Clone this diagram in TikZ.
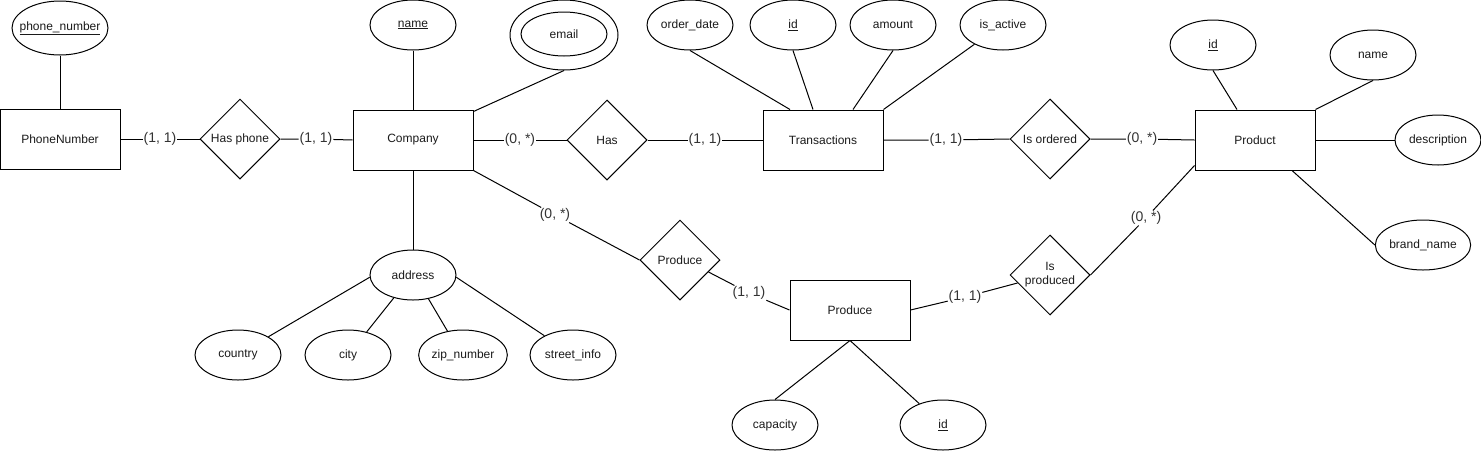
\documentclass[tikz,border=0pt]{standalone}
\usepackage{fontspec}
\setmainfont{Liberation Sans}
\usetikzlibrary{shapes.geometric}
\definecolor{cardgray}{HTML}{333333}
\definecolor{txt}{HTML}{1A1A1A}
\begin{document}
\begin{tikzpicture}[x=1pt,y=-1pt,line width=1pt,
  ent/.style={draw,rectangle,minimum width=120pt,minimum height=60pt,inner sep=0pt,font=\fontsize{12}{14}\selectfont,text=txt},
  attr/.style={draw,ellipse,minimum width=86pt,minimum height=50pt,inner sep=0pt,font=\fontsize{12}{14}\selectfont,text=txt},
  rel/.style={draw,diamond,minimum width=80pt,minimum height=80pt,inner sep=0pt,align=center,font=\fontsize{12}{14}\selectfont,text=txt},
  card/.style={inner sep=0.5pt,font=\fontsize{14}{16}\selectfont,text=cardgray}]
\useasboundingbox (0,0) rectangle (1481,451);

% entities
\node[ent] (pn) at (60,139) {PhoneNumber};
\node[ent] (co) at (413,140) {Company};
\node[ent] (tr) at (823,140) {Transactions};
\node[ent] (pr) at (1255,140) {Product};
\node[ent] (pe) at (850,310) {Produce};

% relationships
\node[rel] (hp) at (240,139) {Has phone};
\node[rel] (has) at (607,140) {Has};
\node[rel] (io) at (1050,139) {Is ordered};
\node[rel] (pd) at (680,260) {Produce};
\node[rel] (ip) at (1050,275) {Is\\produced};

% attributes
\node[attr,minimum width=96pt,minimum height=54pt] (pnum) at (60,28) {\makebox[0pt]{\underline{phone\_number}}};
\node[attr] (cname) at (413,25) {\underline{name}};
\node[draw,ellipse,minimum width=108pt,minimum height=70pt,inner sep=0pt] (email) at (564,35) {};
\node[attr,minimum height=44pt] (emailin) at (564,34) {email};
\node[attr] (od) at (690,25) {order\_date};
\node[attr] (tid) at (793,25) {\underline{id}};
\node[attr] (amt) at (893,25) {amount};
\node[attr] (act) at (1003,25) {is\_active};
\node[attr] (pid) at (1213,45) {\underline{id}};
\node[attr] (pname) at (1373,55) {name};
\node[attr] (desc) at (1438,140) {description};
\node[attr] (brand) at (1423,245) {brand\_name};
\node[attr] (addr) at (413,275) {address};
\node[attr] (ctry) at (238,355) {country};
\node[attr] (city) at (348,355) {city};
\node[attr] (zip) at (463,355) {zip\_number};
\node[attr] (street) at (573,355) {street\_info};
\node[attr] (cap) at (775,425) {capacity};
\node[attr] (eid) at (943,425) {\underline{id}};

% cardinality labels
\node[card] (l1) at (160,139) {(1, 1)};
\node[card] (l2) at (316,139) {(1, 1)};
\node[card] (l3) at (520,140) {(0, *)};
\node[card] (l4) at (705,140) {(1, 1)};
\node[card] (l5) at (946,140) {(1, 1)};
\node[card] (l6) at (1142,139) {(0, *)};
\node[card] (l7) at (555,215) {(0, *)};
\node[card] (l8) at (749,293) {(1, 1)};
\node[card] (l9) at (965,297) {(1, 1)};
\node[card] (l10) at (1146,218) {(0, *)};

% relationship connectors
\draw (pn.east) -- (l1) -- (hp.west);
\draw (hp.east) -- (l2) -- (co.west);
\draw (co.east) -- (l3) -- (has.west);
\draw (has.east) -- (l4) -- (tr.west);
\draw (tr.east) -- (l5) -- (io.west);
\draw (io.east) -- (l6) -- (pr.west);
\draw (co.south east) -- (l7) -- (pd.west);
\draw ([xshift=-12pt,yshift=-12pt]pd.east) -- (l8) -- (pe.west);
\draw (pe.east) -- (l9) -- ([xshift=8pt,yshift=-8pt]ip.west);
\draw ([yshift=5pt]pr.south west) -- (l10) -- (ip.east);

% attribute connectors
\draw (pnum.south) -- (pn.north);
\draw (cname.south) -- (co.north);
\draw (email.south) -- ([yshift=-2pt]co.north east);
\draw (co.south) -- (addr.north);
\draw (addr.183) -- (ctry.31);
\draw (addr.230) -- (city.51);
\draw (addr.303) -- (zip.123);
\draw (addr.357) -- (street.146);
\draw (od.south) -- ([xshift=-33pt]tr.north);
\draw (tid.south) -- ([xshift=-10pt]tr.north);
\draw (amt.south) -- ([xshift=30pt]tr.north);
\draw (act.214) -- (tr.north east);
\draw (pid.south) -- ([xshift=-18pt]pr.north);
\draw (pname.south) -- (pr.north east);
\draw (pr.east) -- (desc.west);
\draw ([xshift=37pt]pr.south) -- (brand.west);
\draw (pe.south) -- (cap.north);
\draw (pe.south) -- (eid.138);
\end{tikzpicture}
\end{document}
